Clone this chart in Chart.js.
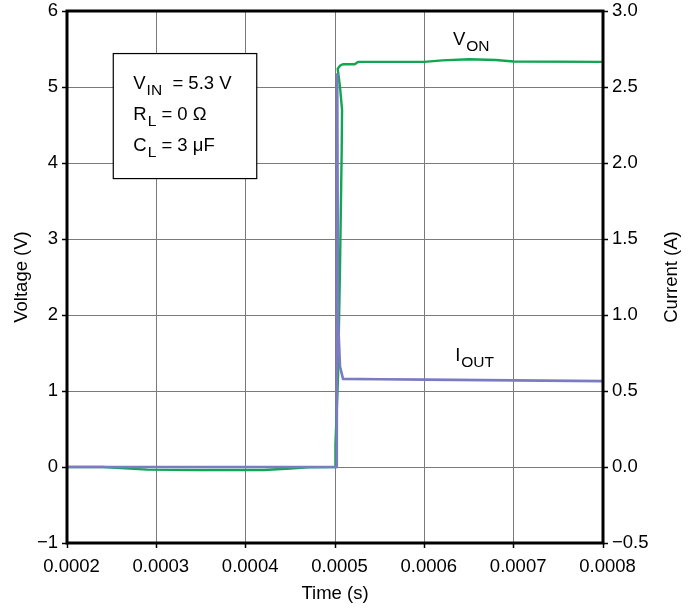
<!DOCTYPE html>
<html>
<head>
<meta charset="utf-8">
<script src="https://cdn.jsdelivr.net/npm/chart.js@4/dist/chart.umd.min.js"></script>
<style>
  html, body { margin: 0; padding: 0; background: #fff; }
  #scope { display: block; }
</style>
</head>
<body>
<canvas id="scope" width="689" height="608"></canvas>
<script>
// V_ON trace (volts, left axis)
const vonTime = [0.0002, 0.00024, 0.00026, 0.00029, 0.00035, 0.00042, 0.00045, 0.00047, 0.0005,
  0.0005005, 0.0005034, 0.0005056, 0.0005075, 0.0005079, 0.0005056, 0.000503, 0.0005056,
  0.000509, 0.000522, 0.0005258, 0.0006, 0.00062, 0.00065, 0.00068, 0.0007, 0.0008];
const vonVolts = [0, 0, -0.015, -0.035, -0.04, -0.04, -0.02, -0.005, 0,
  0.3, 1.18, 2.63, 4.17, 4.7, 5.0, 5.24, 5.28,
  5.3, 5.3, 5.33, 5.33, 5.35, 5.365, 5.355, 5.335, 5.33];

// I_OUT trace (amps, right axis)
const ioutTime = [0.0002, 0.0005, 0.000502, 0.0005025, 0.000503, 0.0005034, 0.0005045,
  0.0005056, 0.000509, 0.00055, 0.0006, 0.0007, 0.0008];
const ioutAmps = [0, 0, 0, 2.59, 2.59, 0.99, 0.82, 0.66, 0.58, 0.577, 0.575, 0.57, 0.565];

const timeTicks = [0.0002, 0.0003, 0.0004, 0.0005, 0.0006, 0.0007, 0.0008];
const voltTicks = [-1, 0, 1, 2, 3, 4, 5, 6];
const ampTicks = [-0.5, 0, 0.5, 1.0, 1.5, 2.0, 2.5, 3.0];

const conditions = [
  ["V", "IN", "  = 5.3 V"],
  ["R", "L", " = 0 \u03A9"],
  ["C", "L", " = 3 \u03BCF"],
];

const FONT = "'Liberation Sans', Arial, Helvetica, sans-serif";
const GREEN = "#12a650";
const PURPLE = "#7b7bc2";
const GRID = "#7a7a7a";

const minus = (text) => text.replace("-", "\u2212");
const zip = (xs, ys) => xs.map((x, i) => ({ x, y: ys[i] }));
const fixedTicks = (values) => (scale) => {
  scale.ticks = values.map((value) => ({ value }));
};
// fixed axis width, no extra room reserved for the end labels
const fixedWidth = (width) => (scale) => {
  scale.width = width;
  scale.paddingTop = 0;
  scale.paddingBottom = 0;
};

// subscripted text, e.g. V with IN below
const drawSub = (ctx, x, y, main, sub, rest, size) => {
  ctx.font = `${size}px ${FONT}`;
  ctx.fillText(main, x, y);
  let cx = x + ctx.measureText(main).width + 1;
  ctx.font = `${size - 3}px ${FONT}`;
  ctx.fillText(sub, cx, y + 6);
  cx += ctx.measureText(sub).width;
  if (rest) {
    ctx.font = `${size}px ${FONT}`;
    ctx.fillText(rest, cx, y);
  }
};

const decorations = {
  id: "decorations",
  beforeDatasetsDraw(chart) {
    const { ctx, scales } = chart;
    const x = scales.x;
    const y = scales.yV;
    const left = x.getPixelForValue(0.0002518);
    const right = x.getPixelForValue(0.0004124);
    const top = y.getPixelForValue(5.44);
    const bottom = y.getPixelForValue(3.795);
    ctx.save();
    ctx.fillStyle = "#fff";
    ctx.fillRect(left, top, right - left, bottom - top);
    ctx.strokeStyle = "#000";
    ctx.lineWidth = 1.2;
    ctx.strokeRect(left, top, right - left, bottom - top);
    ctx.fillStyle = "#000";
    ctx.textBaseline = "alphabetic";
    conditions.forEach(([main, sub, rest], i) => {
      drawSub(ctx, left + 20, top + 35 + i * 31, main, sub, rest, 18.5);
    });
    ctx.restore();
  },
  afterDatasetsDraw(chart) {
    const { ctx, chartArea, scales } = chart;
    ctx.save();
    ctx.fillStyle = "#000";
    ctx.textBaseline = "alphabetic";
    drawSub(ctx, scales.x.getPixelForValue(0.000632), scales.yV.getPixelForValue(5.55), "V", "ON", "", 18.5);
    drawSub(ctx, scales.x.getPixelForValue(0.0006345), scales.yV.getPixelForValue(1.39), "I", "OUT", "", 18.5);
    ctx.strokeStyle = "#000";
    ctx.lineWidth = 3;
    ctx.strokeRect(chartArea.left, chartArea.top, chartArea.right - chartArea.left, chartArea.bottom - chartArea.top);

    // right axis title reads bottom to top, like the left one
    ctx.translate(672, (chartArea.top + chartArea.bottom) / 2);
    ctx.rotate(-Math.PI / 2);
    ctx.font = `18.5px ${FONT}`;
    ctx.textAlign = "center";
    ctx.textBaseline = "middle";
    ctx.fillText("Current (A)", 0, 0);
    ctx.restore();
  },
};

const tickFont = { family: FONT, size: 18.5 };
const titleFont = { family: FONT, size: 18.5 };

new Chart(document.getElementById("scope"), {
  type: "line",
  data: {
    datasets: [
      {
        label: "IOUT",
        data: zip(ioutTime, ioutAmps),
        yAxisID: "yA",
        borderColor: PURPLE,
        borderWidth: 2.6,
        pointRadius: 0,
        tension: 0,
        order: 0,
      },
      {
        label: "VON",
        data: zip(vonTime, vonVolts),
        yAxisID: "yV",
        borderColor: GREEN,
        borderWidth: 2.4,
        pointRadius: 0,
        tension: 0,
        order: 1,
      },
    ],
  },
  options: {
    responsive: false,
    animation: false,
    devicePixelRatio: 1,
    layout: { padding: { top: 11, left: 0, right: 0, bottom: 0 } },
    plugins: {
      legend: { display: false },
      tooltip: { enabled: false },
    },
    scales: {
      x: {
        type: "linear",
        min: 0.0002,
        max: 0.0008,
        afterBuildTicks: fixedTicks(timeTicks),
        afterFit(scale) { scale.height = 65; },
        ticks: {
          color: "#000",
          font: tickFont,
          padding: 8,
          labelOffset: 4.5,
          maxRotation: 0,
          callback: (value) => value.toFixed(4),
        },
        grid: { color: GRID, lineWidth: 1, tickColor: "#000", tickLength: 5, tickWidth: 1.5 },
        border: { display: false },
        title: { display: true, text: "Time (s)", color: "#000", font: titleFont, padding: { top: 0, bottom: 3 } },
      },
      yV: {
        type: "linear",
        position: "left",
        min: -1,
        max: 6,
        afterBuildTicks: fixedTicks(voltTicks),
        afterFit: fixedWidth(67),
        ticks: {
          color: "#000",
          font: tickFont,
          padding: 4,
          callback: (value) => minus(String(value)),
        },
        grid: { color: GRID, lineWidth: 1, tickColor: "#000", tickLength: 5, tickWidth: 1.5 },
        border: { display: false },
        title: { display: true, text: "Voltage (V)", color: "#000", font: titleFont, padding: { top: 11, bottom: 0 } },
      },
      yA: {
        type: "linear",
        position: "right",
        min: -0.5,
        max: 3,
        afterBuildTicks: fixedTicks(ampTicks),
        afterFit: fixedWidth(86),
        ticks: {
          color: "#000",
          font: tickFont,
          padding: 4,
          callback: (value) => minus(value.toFixed(1)),
        },
        grid: { drawOnChartArea: false, tickColor: "#000", tickLength: 5, tickWidth: 1.5 },
        border: { display: false },
        title: { display: false },
      },
    },
  },
  plugins: [decorations],
});
</script>
</body>
</html>
